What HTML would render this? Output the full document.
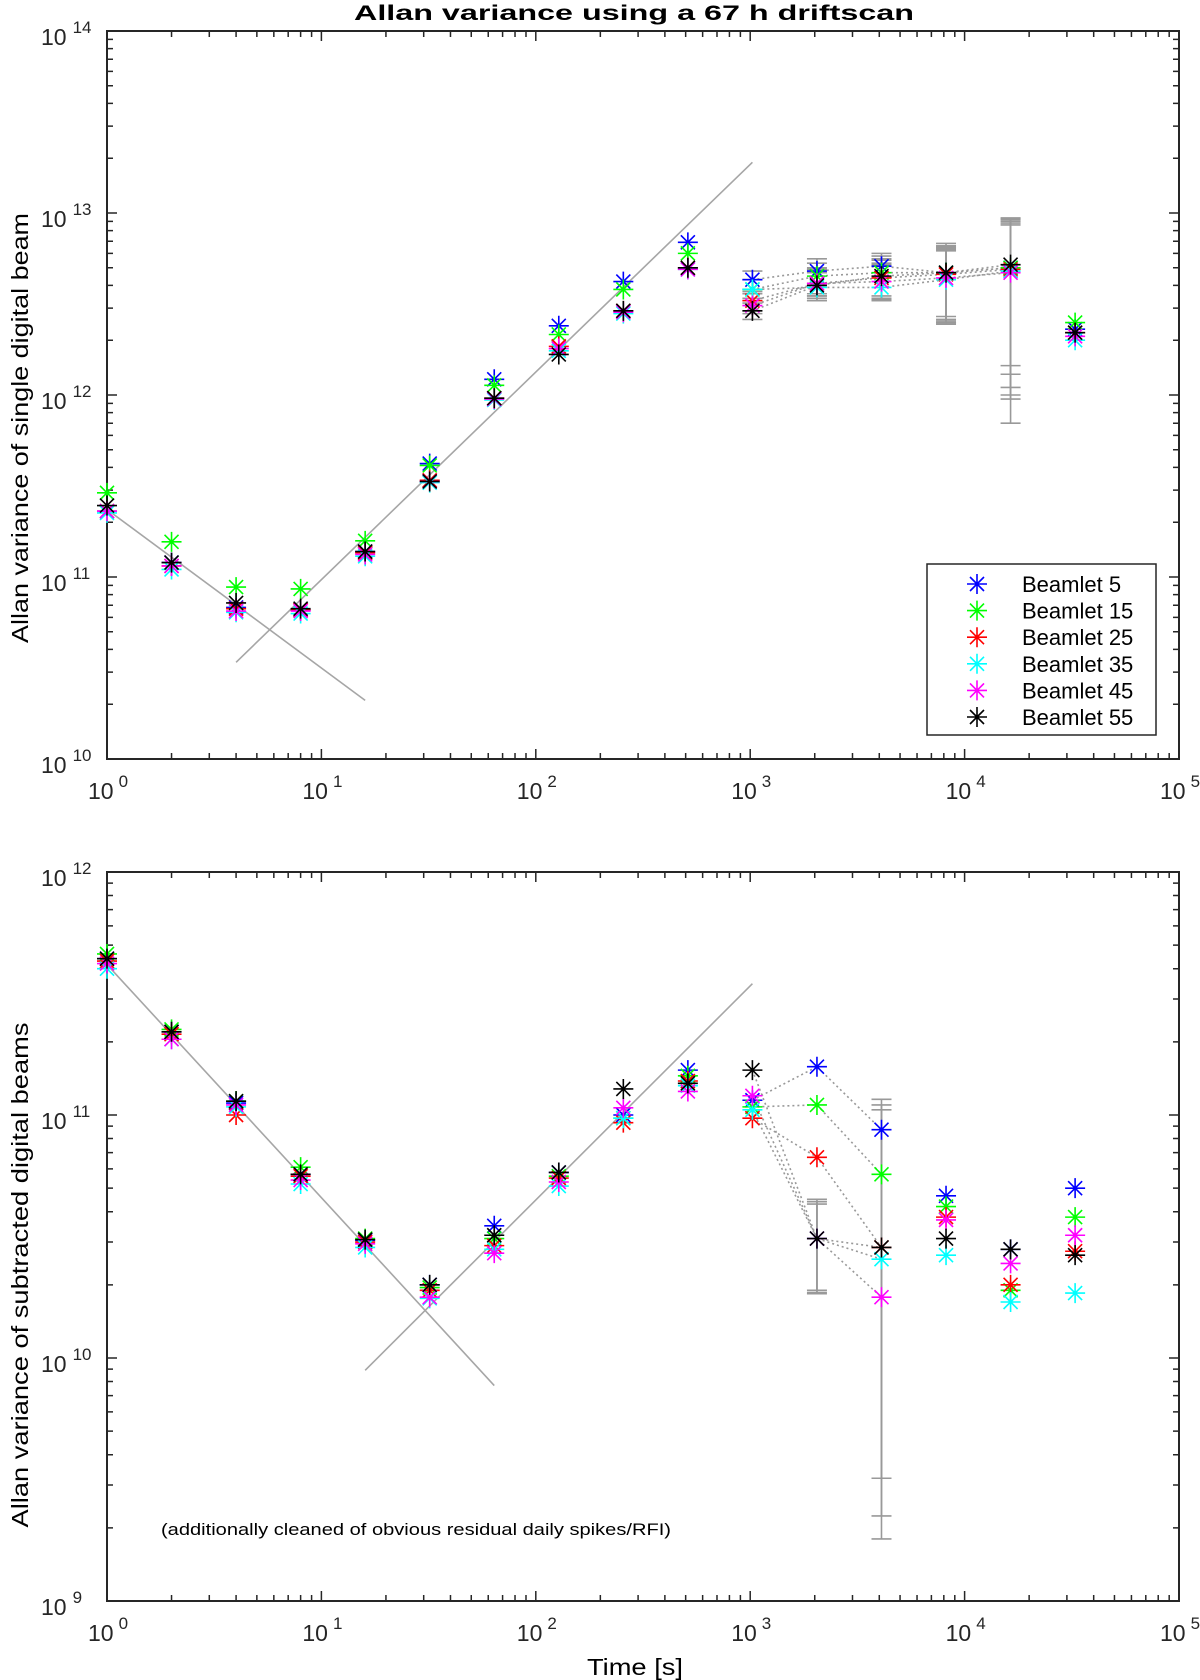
<!DOCTYPE html>
<html><head><meta charset="utf-8"><style>
html,body{margin:0;padding:0;background:#fff;}
svg{display:block;font-family:"Liberation Sans",Arial,sans-serif;}
</style></head><body>
<svg id="chart" width="1200" height="1680" viewBox="0 0 1200 1680" xmlns="http://www.w3.org/2000/svg">
<rect width="1200" height="1680" fill="#fff"/>
<text x="634" y="20" text-anchor="middle" font-size="21" font-weight="bold" textLength="560" lengthAdjust="spacingAndGlyphs">Allan variance using a 67 h driftscan</text>
<text transform="translate(28,428) rotate(-90)" text-anchor="middle" font-size="23" textLength="430" lengthAdjust="spacingAndGlyphs">Allan variance of single digital beam</text>
<text transform="translate(28,1275) rotate(-90)" text-anchor="middle" font-size="23" textLength="505" lengthAdjust="spacingAndGlyphs">Allan variance of subtracted digital beams</text>
<text x="635" y="1675" text-anchor="middle" font-size="23" textLength="96" lengthAdjust="spacingAndGlyphs">Time [s]</text>
<text x="161" y="1535" font-size="17" textLength="510" lengthAdjust="spacingAndGlyphs">(additionally cleaned of obvious residual daily spikes/RFI)</text>
<g id="g"></g>
</svg>
<script>
const times = [1,2,4,8,16,32,64,128,256,512,1024,2048,4096,8192,16384,32768];
const beamlets = ["Beamlet 5","Beamlet 15","Beamlet 25","Beamlet 35","Beamlet 45","Beamlet 55"];
const colors = ["#0000ff","#00ff00","#ff0000","#00ffff","#ff00ff","#000000"];
const xTickExps = [0,1,2,3,4,5];
const topYTickExps = [10,11,12,13,14];
const botYTickExps = [9,10,11,12];

const topB5  = [2.3e11,1.2e11,6.8e10,6.6e10,1.38e11,4.2e11,1.22e12,2.4e12,4.2e12,6.9e12,4.3e12,4.8e12,5.1e12,4.7e12,5.0e12,2.3e12];
const topB15 = [2.9e11,1.56e11,8.8e10,8.6e10,1.58e11,4.1e11,1.13e12,2.15e12,3.8e12,6.0e12,3.8e12,4.5e12,4.7e12,4.7e12,5.0e12,2.5e12];
const topB25 = [2.3e11,1.15e11,6.7e10,6.6e10,1.36e11,3.4e11,9.6e11,1.85e12,2.9e12,5.0e12,3.3e12,4.1e12,4.4e12,4.6e12,4.9e12,2.2e12];
const topB35 = [2.25e11,1.1e11,6.4e10,6.3e10,1.3e11,3.3e11,9.4e11,1.75e12,2.8e12,4.9e12,3.8e12,3.9e12,3.9e12,4.3e12,4.8e12,2.0e12];
const topB45 = [2.3e11,1.15e11,6.5e10,6.5e10,1.33e11,3.35e11,9.5e11,1.8e12,2.85e12,4.9e12,3.1e12,4.1e12,4.2e12,4.4e12,4.7e12,2.1e12];
const topB55 = [2.47e11,1.2e11,7.2e10,6.7e10,1.38e11,3.35e11,9.6e11,1.67e12,2.9e12,5.0e12,2.9e12,4.0e12,4.5e12,4.7e12,5.2e12,2.2e12];

const botB5  = [4.4e11,2.2e11,1.12e11,5.7e10,3.05e10,2.0e10,3.5e10,5.8e10,1.0e11,1.53e11,1.15e11,1.58e11,8.7e10,4.65e10,2.8e10,5.0e10];
const botB15 = [4.6e11,2.25e11,1.14e11,6.1e10,3.1e10,1.95e10,3.1e10,5.6e10,9.7e10,1.45e11,1.08e11,1.1e11,5.7e10,4.2e10,1.9e10,3.8e10];
const botB25 = [4.3e11,2.15e11,1.0e11,5.6e10,3.0e10,1.9e10,2.9e10,5.5e10,9.3e10,1.38e11,9.7e10,6.7e10,2.85e10,3.8e10,2.0e10,2.75e10];
const botB35 = [4.0e11,2.05e11,1.08e11,5.2e10,2.85e10,1.76e10,2.8e10,5.1e10,9.7e10,1.32e11,1.05e11,3.1e10,2.55e10,2.65e10,1.7e10,1.85e10];
const botB45 = [4.2e11,2.05e11,1.1e11,5.4e10,2.95e10,1.78e10,2.7e10,5.3e10,1.07e11,1.25e11,1.2e11,3.1e10,1.78e10,3.7e10,2.45e10,3.2e10];
const botB55 = [4.4e11,2.2e11,1.14e11,5.7e10,3.07e10,2.0e10,3.2e10,5.8e10,1.28e11,1.35e11,1.53e11,3.1e10,2.85e10,3.1e10,2.8e10,2.65e10];

const topErrIdx = [10,11,12,13,14];
const topErrHi = [
 [4.8e12,5.6e12,6.0e12,6.8e12,9.4e12],
 [4.3e12,5.3e12,5.8e12,6.6e12,9.2e12],
 [3.7e12,5.0e12,5.5e12,6.4e12,9.0e12],
 [4.3e12,4.7e12,5.2e12,6.2e12,8.8e12],
 [3.6e12,4.9e12,5.3e12,6.3e12,8.6e12],
 [3.3e12,4.9e12,5.6e12,6.5e12,9.3e12]];
const topErrLo = [
 [3.8e12,3.6e12,3.5e12,2.6e12,1.45e12],
 [3.4e12,3.5e12,3.4e12,2.55e12,1.3e12],
 [2.9e12,3.5e12,3.3e12,2.5e12,1.1e12],
 [3.2e12,3.3e12,3.3e12,2.5e12,1.0e12],
 [2.8e12,3.4e12,3.35e12,2.45e12,0.95e12],
 [2.6e12,3.3e12,3.4e12,2.7e12,0.7e12]];
const botErrIdx = [11,12];
const botErrHi = [null,null,null,[4.3e10,1.05e11],[4.5e10,1.16e11],[4.4e10,1.1e11]];
const botErrLo = [null,null,null,[1.9e10,3.2e9],[1.84e10,1.8e9],[1.86e10,2.24e9]];

const topFitX = [[1,16],[4,1024]];
const topFitY = [[2.35e11,2.1e10],[3.4e10,1.9e13]];
const botFitX = [[1,64],[16,1024]];
const botFitY = [[4.16e11,7.7e9],[8.9e9,3.47e11]];

const topSeries = [topB5,topB15,topB25,topB35,topB45,topB55];
const botSeries = [botB5,botB15,botB25,botB35,botB45,botB55];

const NS="http://www.w3.org/2000/svg";
const G=document.getElementById('g');
function el(tag,attrs,parent){const e=document.createElementNS(NS,tag);for(const k in attrs)e.setAttribute(k,attrs[k]);(parent||G).appendChild(e);return e;}
const L=107,R=1179;
function xs(t){return L+(R-L)*Math.log10(t)/5;}
function mkY(top,bot,e0,e1){return v=>bot-(bot-top)*(Math.log10(v)-e0)/(e1-e0);}
const panels=[
 {name:'top',top:31,bot:759,e0:10,e1:14,ticks:topYTickExps,series:topSeries,fx:topFitX,fy:topFitY},
 {name:'bottom',top:872,bot:1601,e0:9,e1:12,ticks:botYTickExps,series:botSeries,fx:botFitX,fy:botFitY}
];
function star(g,x,y,c){
 const s=10,d=7;
 return el('path',{d:`M${x-s},${y}H${x+s}M${x},${y-s}V${y+s}M${x-d},${y-d}L${x+d},${y+d}M${x-d},${y+d}L${x+d},${y-d}`,stroke:c,'stroke-width':1.6,fill:'none'},g);
}
panels.forEach((P,pi)=>{
 const ys=mkY(P.top,P.bot,P.e0,P.e1);
 const ax=el('g',{});
 
 
 let d='';
 for(let e=0;e<5;e++)for(let m=1;m<10;m++){const x=xs(Math.pow(10,e)*m);const len=m===1?10:6;if(m===1&&e===0)continue;d+=`M${x},${P.bot}v${-len}M${x},${P.top}v${len}`;}
 for(let e=P.e0;e<P.e1;e++)for(let m=1;m<10;m++){const y=ys(Math.pow(10,e)*m);const len=m===1?10:6;if(m===1&&e===P.e0)continue;d+=`M${L},${y}h${len}M${R},${y}h${-len}`;}
 el('path',{d:d,stroke:'#262626','stroke-width':1.5,fill:'none'},ax);
 el('rect',{x:L,y:P.top,width:R-L,height:P.bot-P.top,fill:'none',stroke:'#262626','stroke-width':2},ax);
 xTickExps.forEach(e=>{
  const x=xs(Math.pow(10,e));
  const t=el('text',{x:x-19,y:P.bot+40,'font-size':23,fill:'#262626'},ax);
  
  
  t.appendChild(document.createTextNode('10'));
  const s=el('tspan',{dy:-12,dx:5,'font-size':17},t);s.textContent=String(e);
 });
 P.ticks.forEach(e=>{
  const y=ys(Math.pow(10,e));
  const t=el('text',{x:41,y:y+14,'font-size':23,fill:'#262626'},ax);
  
  
  t.appendChild(document.createTextNode('10'));
  const s=el('tspan',{dy:-12,dx:6,'font-size':17},t);s.textContent=String(e);
 });
 P.fx.forEach((fx,i)=>{
  const ln=el('line',{x1:xs(fx[0]),y1:ys(P.fy[i][0]),x2:xs(fx[1]),y2:ys(P.fy[i][1]),stroke:'#a6a6a6','stroke-width':1.6});
  
  
 });
 P.series.forEach((vals,b)=>{
  const i0=10,i1=(pi===0)?14:12;
  let pd='';for(let i=i0;i<=i1;i++)pd+=(i===i0?'M':'L')+xs(times[i])+','+ys(vals[i]);
  const pl=el('path',{d:pd,stroke:'#999','stroke-width':1.6,'stroke-dasharray':'2,3',fill:'none'});
  
  
 });
 const eg=el('g',{stroke:'#999','stroke-width':1.6,fill:'none'});
 
 
 for(let b=0;b<6;b++){
  const idx=pi===0?topErrIdx:botErrIdx;
  const hi=pi===0?topErrHi[b]:botErrHi[b];
  const lo=pi===0?topErrLo[b]:botErrLo[b];
  if(!hi)continue;
  idx.forEach((ti,k)=>{
   const x=xs(times[ti]),y1=ys(hi[k]),y2=ys(lo[k]);
   el('path',{d:`M${x},${y1}V${y2}M${x-10},${y1}h20M${x-10},${y2}h20`},eg);
  });
 }
 P.series.forEach((vals,b)=>{
  const g=el('g',{});
  
  
  vals.forEach((v,i)=>{star(g,xs(times[i]),ys(v),colors[b]);});
 });
});
const lg=el('g',{});


el('rect',{x:927,y:564,width:229,height:171,fill:'#fff',stroke:'#262626','stroke-width':1.5},lg);
beamlets.forEach((n,i)=>{
 const y=584+i*26.6;
 const e=el('g',{},lg);
 
 
 star(e,977,y,colors[i]);
 const t=el('text',{x:1022,y:y+8,'font-size':22,fill:'#000'},e);
 t.textContent=n;
});
</script>
</body></html>
